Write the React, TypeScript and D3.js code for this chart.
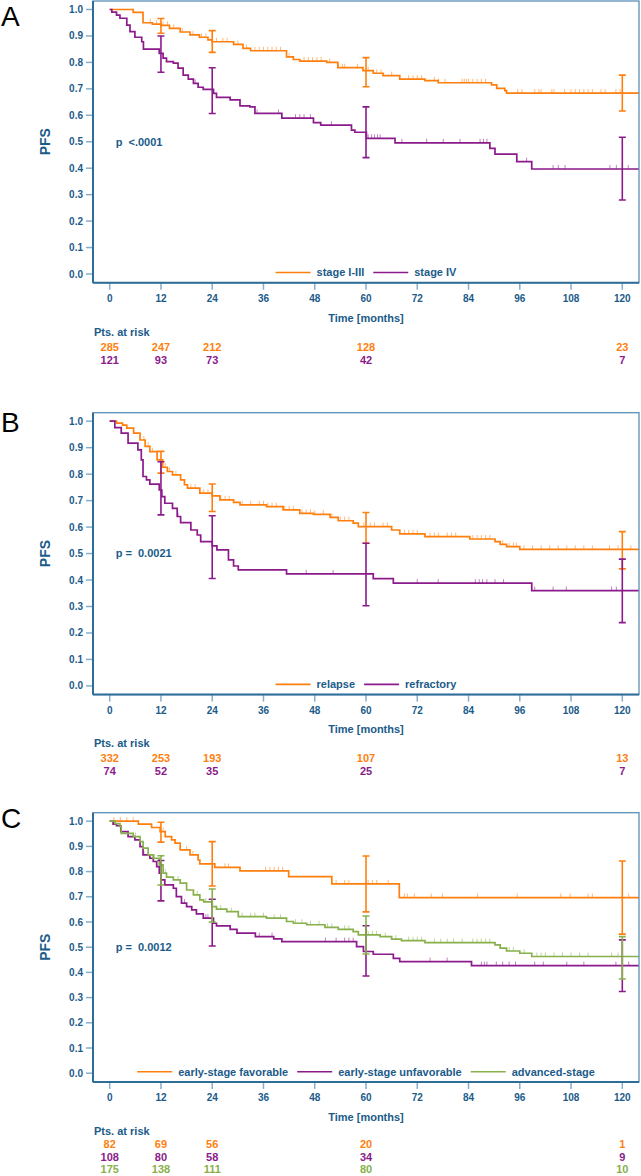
import React from "react";
import * as d3 from "d3";

const TEXT = "#1b5b8a";
const AXIS = "#2f6d99";
const TICK = "#86aeca";
const ORANGE = "#ff7f0e";
const PURPLE = "#8b1a8b";
const GREEN = "#88b04b";
const FONT = "'Liberation Sans', Arial, sans-serif";

const xTicks = [0, 12, 24, 36, 48, 60, 72, 84, 96, 108, 120];
const yTicks = [0, 0.1, 0.2, 0.3, 0.4, 0.5, 0.6, 0.7, 0.8, 0.9, 1.0];
const riskMonths = [0, 12, 24, 60, 120];

// ---------- Panel A ----------
const aOrangeSteps: [number, number][] = [[0,1],[5.5,0.989],[7.8,0.95],[10,0.945],[12,0.94],[14,0.929],[16.5,0.915],[18.8,0.904],[21,0.895],[23,0.885],[24,0.878],[29,0.868],[31.2,0.853],[33,0.844],[41.4,0.821],[43,0.811],[44.5,0.805],[50.8,0.8],[53.4,0.78],[59.3,0.769],[61.7,0.759],[64,0.75],[67.9,0.737],[73.8,0.731],[76.9,0.723],[89.4,0.715],[90.6,0.702],[92.5,0.693],[92.9,0.684]];
const aPurpleSteps: [number, number][] = [[0,1],[0.5,0.99],[1.6,0.979],[2.4,0.967],[4,0.941],[4.75,0.916],[5.9,0.895],[7.5,0.878],[7.9,0.85],[11.6,0.834],[12.5,0.816],[13.3,0.803],[14.9,0.797],[16,0.778],[17.2,0.752],[18.4,0.737],[19.6,0.721],[20.7,0.706],[21.9,0.698],[24.3,0.683],[25,0.668],[28.2,0.658],[30.5,0.636],[32.8,0.632],[34,0.607],[40.3,0.589],[47.7,0.572],[49.4,0.563],[56.6,0.544],[57.4,0.536],[60.1,0.513],[66.8,0.496],[89,0.475],[90.2,0.453],[95.3,0.425],[98.8,0.397]];
const aOrangeCensor = [9.5,11,12.5,13.5,15,17,19.5,21.5,22.5,25,26.5,27.5,30,32,34,35,36,37,38,39,40,42,45.5,46.5,47.5,48.5,49.5,51.5,53.5,54.5,55,58,60.5,62.5,63.5,66,70,71,72,73,76,77,78.5,82.5,83,83.5,84,85,86,87,88,95.5,96.5,99.5,100.5,101,103.5,104,106.5,108,109,110,111,112,113,115,116,118.5,119.5];
const aPurpleCensor = [20,34.5,39.5,43.5,44.5,45.5,47,51.9,60.5,61.3,62,62.7,63.3,68.4,74.2,78.1,82,86.7,87.5,88.3,95.3,97.6,103.8,105,106.6,117.1,118.6,121.4];
const aOrangeCI: [number, number, number][] = [[12,0.91,0.966],[24,0.838,0.92],[60,0.708,0.818],[120,0.616,0.752]];
const aPurpleCI: [number, number, number][] = [[12,0.763,0.9],[24,0.607,0.78],[60,0.44,0.632],[120,0.28,0.517]];
const aOrangeRisk = [285, 247, 212, 128, 23];
const aPurpleRisk = [121, 93, 73, 42, 7];

// ---------- Panel B ----------
const bOrangeSteps: [number, number][] = [[0,1],[1.6,0.993],[3,0.985],[4,0.974],[5.6,0.955],[7.1,0.929],[8.3,0.905],[9.4,0.885],[11.1,0.854],[12.4,0.826],[13.5,0.81],[14.7,0.797],[16.6,0.778],[17.5,0.76],[18.2,0.747],[21.1,0.728],[24,0.718],[25.8,0.703],[29,0.693],[30.5,0.684],[36.7,0.677],[40.6,0.665],[44.5,0.652],[47.7,0.648],[51.6,0.637],[53.5,0.624],[57,0.615],[58.2,0.602],[66,0.589],[67.9,0.574],[73.8,0.564],[84.3,0.555],[90.2,0.545],[91.4,0.535],[92.9,0.526],[96,0.516]];
const bPurpleSteps: [number, number][] = [[0,1],[1.2,0.976],[2.7,0.955],[4.3,0.917],[6.6,0.892],[7.4,0.854],[7.8,0.791],[8.6,0.778],[9.4,0.762],[11.6,0.74],[12.2,0.715],[12.9,0.69],[14.7,0.671],[15.8,0.64],[16.6,0.617],[19,0.589],[20.5,0.57],[21.3,0.545],[24,0.529],[25.1,0.514],[27.8,0.476],[29,0.453],[30.1,0.438],[41.4,0.423],[61.7,0.405],[66.4,0.388],[98.8,0.36]];
const bOrangeCensor = [8,9,10,13,14,15.5,19,20,22,23,26,27,28,31,33,35,36,37,38,39,41,42,43,45,46,47,48,50,52,54,55,56,59.5,61,62,64,65,69,70,71,72,75,76,77,79,80,81,85,86,87,88,89,92,93.5,94.5,95.2,97,99,101,103,105,107,109,111,113,117,119,122];
const bPurpleCensor = [16,46,52.3,72,76.9,85.6,86.5,87.3,88.3,90.2,92.2,99.5,103.8,106.9,117.5,118.6];
const bOrangeCI: [number, number, number][] = [[12,0.804,0.886],[24,0.659,0.763],[60,0.539,0.655],[120,0.442,0.583]];
const bPurpleCI: [number, number, number][] = [[12,0.646,0.847],[24,0.406,0.643],[60,0.303,0.539],[120,0.239,0.479]];
const bOrangeRisk = [332, 253, 193, 107, 13];
const bPurpleRisk = [74, 52, 35, 25, 7];

// ---------- Panel C ----------
const cOrangeSteps: [number, number][] = [[0,1],[6.7,0.988],[9.8,0.975],[11.8,0.959],[13,0.939],[14.5,0.926],[15.3,0.913],[16.5,0.886],[18.8,0.866],[20.7,0.846],[21.1,0.831],[24.6,0.817],[30.5,0.803],[41.9,0.78],[52,0.751],[67.8,0.697]];
const cPurpleSteps: [number, number][] = [[0,1],[0.8,0.988],[1.6,0.982],[2.6,0.959],[4.3,0.939],[5.9,0.926],[7.1,0.899],[7.8,0.866],[9.4,0.853],[10.2,0.84],[11,0.82],[11.6,0.794],[12,0.767],[12.9,0.747],[14.9,0.734],[15.6,0.701],[16.8,0.675],[18,0.661],[19.2,0.648],[20.3,0.632],[21.9,0.615],[24.3,0.595],[25,0.585],[28.2,0.571],[29.8,0.556],[34.1,0.542],[38.4,0.533],[40.3,0.522],[57.8,0.502],[59.4,0.483],[61.7,0.472],[66.4,0.456],[67.9,0.443],[84.7,0.427]];
const cGreenSteps: [number, number][] = [[0,1],[1.2,0.99],[2.4,0.979],[2.7,0.952],[5.5,0.939],[7.1,0.919],[7.8,0.893],[9,0.866],[10.2,0.853],[11.6,0.827],[12.5,0.794],[13.3,0.778],[14.9,0.767],[16.5,0.754],[18,0.727],[19.6,0.708],[21.1,0.688],[22,0.68],[24,0.661],[25,0.651],[27.4,0.641],[30.1,0.621],[36.7,0.615],[41.4,0.602],[43,0.595],[46.1,0.589],[50.4,0.579],[53.5,0.571],[57,0.562],[58.2,0.549],[63.3,0.542],[66,0.532],[68.3,0.526],[73.8,0.518],[90.2,0.509],[91.4,0.496],[92.9,0.485],[96,0.476],[98.8,0.463]];
const cOrangeCensor = [1,2.5,4,5.5,12.5,18,19.5,27,27.8,36.5,37.5,38.5,39.5,40.5,53,55,56,60.5,61.5,62.5,65.2,69,69.7,71.3,75.3,77.9,86.1,95.4,105.6,107.8,112,113,120,121.5];
const cPurpleCensor = [8,17.5,22.5,23,35,38,50.5,53,55,56,57,75,79,87,87.7,88.3,90.5,92,93.5,95,99.5,101.5,107,111,118.5,121.5];
const cGreenCensor = [6,10.5,13,16,20.5,22.5,26,28.5,31,33,34,36,38.5,40,43.5,45,47,49,51,52,55,56,60.5,61.5,62.5,64.5,67,70,71,72,73,76,77.5,79,80.5,82.5,85,86,87,88,89,93.5,94.5,97,100,101,102,104,106,108,110,112,117.5,119];
const cOrangeCI: [number, number, number][] = [[12,0.917,0.996],[24,0.743,0.919],[60,0.64,0.862],[120,0.552,0.842]];
const cPurpleCI: [number, number, number][] = [[12,0.684,0.844],[24,0.505,0.69],[60,0.386,0.585],[120,0.324,0.529]];
const cGreenCI: [number, number, number][] = [[12,0.747,0.863],[24,0.6,0.731],[60,0.473,0.624],[120,0.374,0.542]];
const cOrangeRisk = [82, 69, 56, 20, 1];
const cPurpleRisk = [108, 80, 58, 34, 9];
const cGreenRisk = [175, 138, 111, 80, 10];

type Series = {
  name: string;
  color: string;
  steps: [number, number][];
  censor: number[];
  ci: [number, number, number][];
  risk: number[];
};

const BOX_L = 93;
const BOX_R = 639;
const X0 = 109.7;
const X120 = 622.3;

let measureCtx: CanvasRenderingContext2D | null = null;
function textWidth(s: string, size: number) {
  if (!measureCtx) {
    const c = document.createElement("canvas");
    measureCtx = c.getContext("2d");
  }
  if (!measureCtx) return s.length * size * 0.55;
  measureCtx.font = `bold ${size}px 'Liberation Sans', Arial, sans-serif`;
  return measureCtx.measureText(s).width;
}

function survAt(steps: [number, number][], t: number) {
  let v = steps[0][1];
  for (const s of steps) {
    if (s[0] <= t) v = s[1];
    else break;
  }
  return v;
}

function Panel(props: {
  id: string;
  top: number;
  h: number;
  letter: string;
  letterY: number;
  pText: string;
  series: Series[];
  riskStart: number;
  riskStep: number;
}) {
  const { id, top, h, letter, letterY, pText, series, riskStart, riskStep } = props;
  const yTop = top + 8.5;
  const yBot = yTop + h;
  const boxBottom = yBot + 8.7;
  const x = d3.scaleLinear().domain([0, 120]).range([X0, X120]);
  const y = d3.scaleLinear().domain([0, 1]).range([yBot, yTop]);
  const line = d3
    .line<[number, number]>()
    .x((d) => x(d[0]))
    .y((d) => y(d[1]))
    .curve(d3.curveStepAfter);
  const endT = x.invert(BOX_R);

  // legend layout (centered on plot)
  const LINE = 35, GAP1 = 6, GAP2 = 9;
  const widths = series.map((s) => textWidth(s.name, 11));
  const total = widths.reduce((a, w) => a + LINE + GAP1 + w, 0) + GAP2 * (series.length - 1);
  let lx = (BOX_L + BOX_R) / 2 - total / 2;
  const legendItems = series.map((s, i) => {
    const item = { x: lx, s, w: widths[i] };
    lx += LINE + GAP1 + widths[i] + GAP2;
    return item;
  });
  const legendY = yBot - 1.5;

  return (
    <g>
      <defs>
        <clipPath id={`clip-${id}`}>
          <rect x={BOX_L} y={top} width={BOX_R - BOX_L} height={boxBottom - top} />
        </clipPath>
      </defs>
      <text x={1} y={letterY} fontFamily={FONT} fontSize={28} fill="#000">
        {letter}
      </text>
      {/* y ticks */}
      {yTicks.map((t) => (
        <g key={t}>
          <line x1={86} x2={BOX_L} y1={y(t)} y2={y(t)} stroke={TICK} strokeWidth={1.5} />
          <text x={83} y={y(t)} dy="0.35em" textAnchor="end" fontFamily={FONT} fontWeight="bold" fontSize={10} fill={TEXT}>
            {t.toFixed(1)}
          </text>
        </g>
      ))}
      {/* x ticks */}
      {xTicks.map((t) => (
        <g key={t}>
          <line x1={x(t)} x2={x(t)} y1={boxBottom} y2={boxBottom + 7} stroke={TICK} strokeWidth={1.5} />
          <text x={x(t)} y={boxBottom + 15.7} dy="0.35em" textAnchor="middle" fontFamily={FONT} fontWeight="bold" fontSize={10} fill={TEXT}>
            {t}
          </text>
        </g>
      ))}
      <text
        transform={`translate(45,${(yTop + yBot) / 2}) rotate(-90)`}
        textAnchor="middle"
        dy="0.35em"
        fontFamily={FONT}
        fontWeight="bold"
        fontSize={14}
        fill={TEXT}
      >
        PFS
      </text>
      <text x={(BOX_L + BOX_R) / 2} y={boxBottom + 35} dy="0.35em" textAnchor="middle" fontFamily={FONT} fontWeight="bold" fontSize={11} fill={TEXT}>
        Time [months]
      </text>
      <text x={94} y={boxBottom + 49} dy="0.35em" fontFamily={FONT} fontWeight="bold" fontSize={11} fill={TEXT}>
        Pts. at risk
      </text>
      {series.map((s, si) =>
        s.risk.map((n, i) => (
          <text
            key={`${si}-${i}`}
            x={x(riskMonths[i])}
            y={boxBottom + riskStart + si * riskStep}
            dy="0.35em"
            textAnchor="middle"
            fontFamily={FONT}
            fontWeight="bold"
            fontSize={11}
            fill={s.color}
          >
            {n}
          </text>
        ))
      )}
      <text x={115.7} y={y(0.5)} dy="0.35em" fontFamily={FONT} fontWeight="bold" fontSize={11} fill={TEXT} style={{ whiteSpace: "pre" }}>
        {pText}
      </text>
      {/* curves */}
      <g clipPath={`url(#clip-${id})`}>
        {series.map((s, si) => {
          const pts: [number, number][] = [...s.steps, [endT, s.steps[s.steps.length - 1][1]]];
          return (
            <g key={si}>
              <path d={line(pts) || ""} fill="none" stroke={s.color} strokeWidth={1.7} />
              {s.censor.map((c, ci) => {
                const v = survAt(s.steps, c);
                return (
                  <line key={ci} x1={x(c)} x2={x(c)} y1={y(v) - 4} y2={y(v)} stroke={s.color} strokeOpacity={0.55} strokeWidth={1} />
                );
              })}
            </g>
          );
        })}
        {series.map((s, si) =>
          s.ci.map((c, ci) => (
            <g key={`ci-${si}-${ci}`} stroke={s.color} strokeWidth={1.6}>
              <line x1={x(c[0])} x2={x(c[0])} y1={y(c[1])} y2={y(c[2])} />
              <line x1={x(c[0]) - 3.5} x2={x(c[0]) + 3.5} y1={y(c[1])} y2={y(c[1])} />
              <line x1={x(c[0]) - 3.5} x2={x(c[0]) + 3.5} y1={y(c[2])} y2={y(c[2])} />
            </g>
          ))
        )}
      </g>
      {/* legend */}
      {legendItems.map((it, i) => (
        <g key={i}>
          <line x1={it.x} x2={it.x + LINE} y1={legendY} y2={legendY} stroke={it.s.color} strokeWidth={1.6} />
          <text x={it.x + LINE + GAP1} y={legendY} dy="0.35em" fontFamily={FONT} fontWeight="bold" fontSize={11} fill={TEXT}>
            {it.s.name}
          </text>
        </g>
      ))}
      {/* box */}
      <rect x={BOX_L} y={top} width={BOX_R - BOX_L} height={boxBottom - top} fill="none" stroke="#5a8fb8" strokeWidth={1.3} />
      <line x1={BOX_L} x2={BOX_L} y1={top} y2={boxBottom} stroke={AXIS} strokeWidth={2} />
      <line x1={BOX_L} x2={BOX_R} y1={boxBottom} y2={boxBottom} stroke={AXIS} strokeWidth={2} />
    </g>
  );
}

export default function App() {
  const seriesA: Series[] = [
    { name: "stage I-III", color: ORANGE, steps: aOrangeSteps, censor: aOrangeCensor, ci: aOrangeCI, risk: aOrangeRisk },
    { name: "stage IV", color: PURPLE, steps: aPurpleSteps, censor: aPurpleCensor, ci: aPurpleCI, risk: aPurpleRisk },
  ];
  const seriesB: Series[] = [
    { name: "relapse", color: ORANGE, steps: bOrangeSteps, censor: bOrangeCensor, ci: bOrangeCI, risk: bOrangeRisk },
    { name: "refractory", color: PURPLE, steps: bPurpleSteps, censor: bPurpleCensor, ci: bPurpleCI, risk: bPurpleRisk },
  ];
  const seriesC: Series[] = [
    { name: "early-stage favorable", color: ORANGE, steps: cOrangeSteps, censor: cOrangeCensor, ci: cOrangeCI, risk: cOrangeRisk },
    { name: "early-stage unfavorable", color: PURPLE, steps: cPurpleSteps, censor: cPurpleCensor, ci: cPurpleCI, risk: cPurpleRisk },
    { name: "advanced-stage", color: GREEN, steps: cGreenSteps, censor: cGreenCensor, ci: cGreenCI, risk: cGreenRisk },
  ];
  return (
    <svg
      width={641}
      height={1176}
      style={{ position: "absolute", left: 0, top: 0, background: "#fff" }}
    >
      <Panel id="a" top={1} h={264.5} letter="A" letterY={26} pText={"p  <.0001"} series={seriesA} riskStart={64} riskStep={13} />
      <Panel id="b" top={412.7} h={264.7} letter="B" letterY={431.5} pText={"p =  0.0021"} series={seriesB} riskStart={64} riskStep={13} />
      <Panel id="c" top={812.7} h={252} letter="C" letterY={827.5} pText={"p =  0.0012"} series={seriesC} riskStart={62.5} riskStep={12.5} />
    </svg>
  );
}
